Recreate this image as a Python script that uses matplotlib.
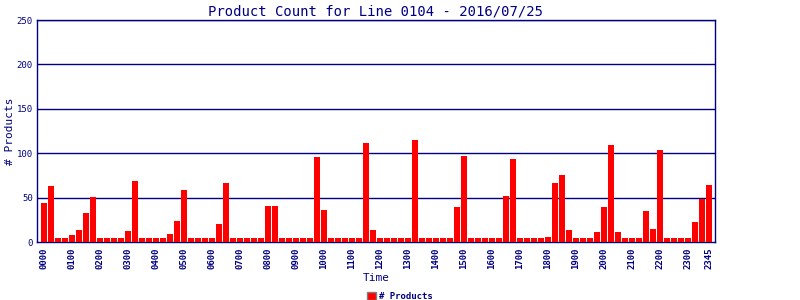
import matplotlib
matplotlib.use("Agg")
import matplotlib.pyplot as plt
from matplotlib.patches import Patch

title = "Product Count for Line 0104 - 2016/07/25"
# 96 quarter-hour slots, 0000 .. 2345
times = [f"{h:02d}{m:02d}" for h in range(24) for m in (0, 15, 30, 45)]
counts = [
    44, 63, 4, 4, 8, 14, 33, 51,      # 00
    4, 4, 4, 4, 12, 69, 5, 4,         # 02
    4, 5, 9, 24, 59, 4, 4, 4,         # 04
    4, 20, 66, 4, 4, 4, 4, 4,         # 06
    40, 41, 4, 4, 4, 4, 4, 96,        # 08
    36, 4, 4, 4, 4, 4, 111, 13,       # 10
    4, 4, 4, 4, 5, 115, 4, 4,         # 12
    4, 4, 4, 39, 97, 4, 4, 4,         # 14
    4, 4, 52, 94, 4, 4, 4, 4,         # 16
    6, 67, 76, 14, 4, 5, 4, 11,       # 18
    39, 109, 11, 4, 4, 4, 35, 15,     # 20
    104, 4, 4, 4, 5, 23, 48, 64,      # 22
]
tick_idx = list(range(0, 96, 4)) + [95]
tick_labels = [times[i] for i in tick_idx]
yticks = [0, 50, 100, 150, 200, 250]

navy = "#000080"
mono = ["DejaVu Sans Mono"]

fig = plt.figure(figsize=(8, 3), dpi=100)
ax = fig.add_axes([0.04625, 0.1933, 0.8475, 0.74])

x = list(range(len(counts)))
bars = ax.bar(x, counts, width=6/7, color="#ff0000", edgecolor="none", zorder=3,
              label="# Products")

ax.set_xlim(-1.0, 95.86)
ax.set_ylim(0, 250)
ax.set_yticks(yticks)
ax.set_yticklabels([str(v) for v in yticks], fontsize=6.5, color=navy, family=mono)
ax.set_xticks(tick_idx)
ax.set_xticklabels(tick_labels, rotation=90, fontsize=6.5, color=navy, family=mono,
                   fontweight="bold")
ax.tick_params(axis="both", length=0, pad=3)
ax.tick_params(axis="x", pad=4)
for y in yticks[1:]:
    ax.axhline(y, color=navy, linewidth=1.0, zorder=1)
for s in ax.spines.values():
    s.set_color(navy)
    s.set_linewidth(1.0)

ax.set_title(title, fontsize=10, color=navy, family=mono, pad=3)
ax.set_xlabel("Time", fontsize=8, color=navy, family=mono, labelpad=3)
ax.set_ylabel("# Products", fontsize=8, color=navy, family=mono, labelpad=1)

leg = fig.legend(handles=[Patch(facecolor="#ff0000", edgecolor="#808080", linewidth=1,
                                label="# Products")],
                 loc="lower center", bbox_to_anchor=(0.5, -0.03), frameon=False,
                 prop={"family": mono, "size": 6.5, "weight": "bold"},
                 handlelength=1.0, handleheight=0.9, handletextpad=0.4)
for t in leg.get_texts():
    t.set_color(navy)

fig.savefig("out.png", dpi=100)
